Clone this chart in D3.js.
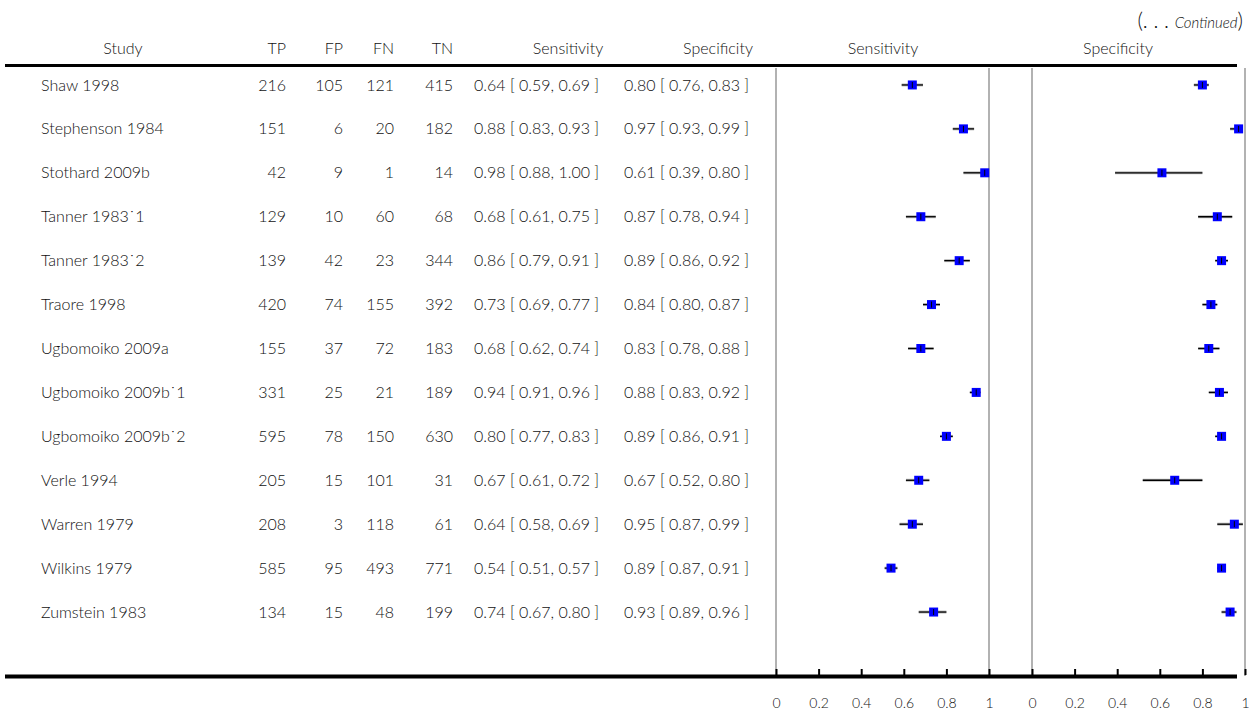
<html>
<head>
<script src="https://d3js.org/d3.v7.min.js"></script>
<style>
  body { margin: 0; background: #fff; }
  text { font-family: Lato, "Open Sans", sans-serif; font-weight: 300; fill: #111; }
</style>
</head>
<body>
<div id="chart"></div>
<script>
// data
const studies = ["Shaw 1998", "Stephenson 1984", "Stothard 2009b", "Tanner 1983˙1", "Tanner 1983˙2",
  "Traore 1998", "Ugbomoiko 2009a", "Ugbomoiko 2009b˙1", "Ugbomoiko 2009b˙2", "Verle 1994",
  "Warren 1979", "Wilkins 1979", "Zumstein 1983"];
const tp = [216, 151, 42, 129, 139, 420, 155, 331, 595, 205, 208, 585, 134];
const fp = [105, 6, 9, 10, 42, 74, 37, 25, 78, 15, 3, 95, 15];
const fn = [121, 20, 1, 60, 23, 155, 72, 21, 150, 101, 118, 493, 48];
const tn = [415, 182, 14, 68, 344, 392, 183, 189, 630, 31, 61, 771, 199];
const sens = [0.64, 0.88, 0.98, 0.68, 0.86, 0.73, 0.68, 0.94, 0.80, 0.67, 0.64, 0.54, 0.74];
const sensLo = [0.59, 0.83, 0.88, 0.61, 0.79, 0.69, 0.62, 0.91, 0.77, 0.61, 0.58, 0.51, 0.67];
const sensHi = [0.69, 0.93, 1.00, 0.75, 0.91, 0.77, 0.74, 0.96, 0.83, 0.72, 0.69, 0.57, 0.80];
const spec = [0.80, 0.97, 0.61, 0.87, 0.89, 0.84, 0.83, 0.88, 0.89, 0.67, 0.95, 0.89, 0.93];
const specLo = [0.76, 0.93, 0.39, 0.78, 0.86, 0.80, 0.78, 0.83, 0.86, 0.52, 0.87, 0.87, 0.89];
const specHi = [0.83, 0.99, 0.80, 0.94, 0.92, 0.87, 0.88, 0.92, 0.91, 0.80, 0.99, 0.91, 0.96];
const ticks = [0, 0.2, 0.4, 0.6, 0.8, 1];

const width = 1253, height = 715;
const svg = d3.create("svg").attr("width", width).attr("height", height);

const yScale = d3.scaleBand().domain(d3.range(studies.length)).range([63, 634]);
const xSens = d3.scaleLinear().domain([0, 1]).range([776, 989]);
const xSpec = d3.scaleLinear().domain([0, 1]).range([1032, 1245]);
const fmt = d3.format(".2f");
const fs = 16;

// header
svg.append("text").attr("x", 1243).attr("y", 28).attr("text-anchor", "end")
  .style("font-size", "21px")
  .html('(. . . <tspan style="font-style:italic;font-size:15px">Continued</tspan>)');

const headers = [["Study", 123, "middle"], ["TP", 286, "end"], ["FP", 343, "end"], ["FN", 394, "end"],
  ["TN", 453, "end"], ["Sensitivity", 568, "middle"], ["Specificity", 718, "middle"],
  ["Sensitivity", 883, "middle"], ["Specificity", 1118, "middle"]];
svg.selectAll("text.hdr").data(headers).enter().append("text")
  .attr("class", "hdr").attr("x", d => d[1]).attr("y", 54).attr("text-anchor", d => d[2])
  .style("font-size", fs + "px").text(d => d[0]);

svg.append("line").attr("x1", 5).attr("x2", 1237).attr("y1", 65.5).attr("y2", 65.5)
  .attr("stroke", "#000").attr("stroke-width", 3);

// reference lines at 0 and 1
[xSens, xSpec].forEach(sc => {
  svg.selectAll(null).data([0, 1]).enter().append("line")
    .attr("x1", d => sc(d)).attr("x2", d => sc(d)).attr("y1", 68).attr("y2", 676)
    .attr("stroke", "#999").attr("stroke-width", 1.5);
});

// table rows
const rows = svg.append("g").selectAll("g").data(studies).enter().append("g")
  .attr("transform", (d, i) => `translate(0, ${yScale(i) + yScale.bandwidth() / 2})`);

function col(getter, x, anchor) {
  rows.append("text").attr("x", x).attr("dy", "0.35em").attr("text-anchor", anchor)
    .style("font-size", fs + "px").text((d, i) => getter(i));
}
col(i => studies[i], 41, "start");
col(i => tp[i], 286, "end");
col(i => fp[i], 343, "end");
col(i => fn[i], 394, "end");
col(i => tn[i], 453, "end");
col(i => `${fmt(sens[i])} [ ${fmt(sensLo[i])}, ${fmt(sensHi[i])} ]`, 474, "start");
col(i => `${fmt(spec[i])} [ ${fmt(specLo[i])}, ${fmt(specHi[i])} ]`, 624, "start");

// forest marks
function forest(sc, est, lo, hi) {
  rows.append("line").attr("x1", (d, i) => sc(lo[i])).attr("x2", (d, i) => sc(hi[i]))
    .attr("stroke", "#bbb").attr("stroke-width", 3);
  rows.append("line").attr("x1", (d, i) => sc(lo[i])).attr("x2", (d, i) => sc(hi[i]))
    .attr("stroke", "#000").attr("stroke-width", 1.3);
  rows.append("rect").attr("x", (d, i) => sc(est[i]) - 4.5).attr("y", -4.5)
    .attr("width", 9).attr("height", 9).attr("fill", "#0000ff");
  rows.append("line").attr("x1", (d, i) => sc(est[i])).attr("x2", (d, i) => sc(est[i]))
    .attr("y1", -3).attr("y2", 3).attr("stroke", "#000").attr("stroke-width", 1);
}
forest(xSens, sens, sensLo, sensHi);
forest(xSpec, spec, specLo, specHi);

// bottom rule and axes
svg.append("line").attr("x1", 5).attr("x2", 1237).attr("y1", 676.5).attr("y2", 676.5)
  .attr("stroke", "#000").attr("stroke-width", 4);
[xSens, xSpec].forEach(sc => {
  const ax = svg.append("g").attr("transform", "translate(0, 675)")
    .call(d3.axisTop(sc).tickValues(ticks).tickSize(6).tickFormat(d => d === 0 ? "0" : d === 1 ? "1" : d3.format(".1f")(d)));
  ax.select(".domain").remove();
  ax.selectAll(".tick line").attr("stroke", "#000").attr("stroke-width", 2);
  ax.selectAll(".tick text").attr("y", 28).attr("dy", "0.35em")
    .style("font-size", "14px").style("font-family", "Lato, sans-serif").attr("fill", "#222");
});

document.getElementById("chart").appendChild(svg.node());
</script>
</body>
</html>
